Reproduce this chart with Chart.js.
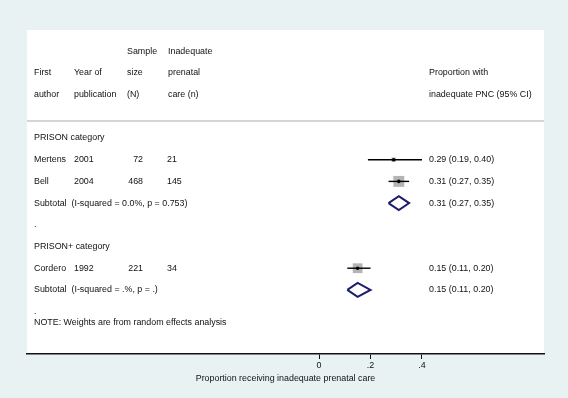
<!DOCTYPE html>
<html lang="en">
<head>
  <meta charset="UTF-8">
  <title>Forest plot - inadequate prenatal care</title>
  <script src="https://cdn.jsdelivr.net/npm/chart.js"></script>
  <style>
    body { margin: 0; background: #e9f2f2; }
    .wrap { width: 568px; height: 398px; }
  </style>
</head>
<body>
  <div class="wrap"><canvas id="forest" width="568" height="398"></canvas></div>
  <script>
    // data
    const groups = ['PRISON category', 'PRISON+ category'];
    const authors = ['Mertens', 'Bell', 'Cordero'];
    const studyGroup = [0, 0, 1];
    const years = ['2001', '2004', '1992'];
    const sampleSize = [72, 468, 221];
    const inadequate = [21, 145, 34];
    const estimate = [0.29, 0.31, 0.15];
    const ciLow = [0.19, 0.27, 0.11];
    const ciHigh = [0.40, 0.35, 0.20];
    const weight = [8.2, 51.2, 40.6];
    const subEstimate = [0.31, 0.15];
    const subLow = [0.27, 0.11];
    const subHigh = [0.35, 0.20];
    const subLabel = ['Subtotal  (I-squared = 0.0%, p = 0.753)', 'Subtotal  (I-squared = .%, p = .)'];
    const tickValues = [0, 0.2, 0.4];
    const tickLabels = ['0', '.2', '.4'];
    const axisTitle = 'Proportion receiving inadequate prenatal care';
    const note = 'NOTE: Weights are from random effects analysis';

    // row layout (one row per line of the table)
    const groupRow = [], studyRow = [], subRow = [], dotRow = [];
    let r = 0;
    groups.forEach((g, gi) => {
      groupRow[gi] = r++;
      authors.forEach((a, i) => { if (studyGroup[i] === gi) studyRow[i] = r++; });
      subRow[gi] = r++;
      dotRow[gi] = r++;
    });
    const noteRow = r - 0.5;

    const fmt = (e, l, h) => e.toFixed(2) + ' (' + l.toFixed(2) + ', ' + h.toFixed(2) + ')';
    const NAVY = '#1b1d6c';
    const FONT = '8.9px "Liberation Sans", Arial, sans-serif';

    const datasets = [];
    // weight boxes
    datasets.push({
      data: authors.map((a, i) => ({ x: estimate[i], y: studyRow[i] })),
      pointStyle: 'rect',
      pointRadius: weight.map(w => 1.08 * Math.sqrt(w)),
      backgroundColor: '#b4b4b4', borderWidth: 0, order: 3
    });
    // confidence intervals
    authors.forEach((a, i) => {
      datasets.push({
        data: [{ x: ciLow[i], y: studyRow[i] }, { x: ciHigh[i], y: studyRow[i] }],
        showLine: true, borderColor: '#000', borderWidth: 1.4, pointRadius: 0, order: 2
      });
    });
    // point estimates
    datasets.push({
      data: authors.map((a, i) => ({ x: estimate[i], y: studyRow[i] })),
      pointStyle: 'circle', pointRadius: 1.8,
      backgroundColor: '#000', borderColor: '#000', borderWidth: 0, order: 1
    });
    // subtotal diamonds
    groups.forEach((g, gi) => {
      const y = subRow[gi], h = 0.32;
      datasets.push({
        data: [
          { x: subLow[gi], y: y }, { x: subEstimate[gi], y: y - h },
          { x: subHigh[gi], y: y }, { x: subEstimate[gi], y: y + h },
          { x: subLow[gi], y: y }
        ],
        showLine: true, borderColor: NAVY, borderWidth: 2, pointRadius: 0,
        borderJoinStyle: 'miter', fill: false, order: 1
      });
    });

    const tablePlugin = {
      id: 'table',
      beforeDraw(chart) {
        const ctx = chart.ctx, a = chart.chartArea;
        ctx.save();
        ctx.fillStyle = '#e9f2f2';
        ctx.fillRect(0, 0, chart.width, chart.height);
        ctx.fillStyle = '#fff';
        ctx.fillRect(a.left, a.top, a.right - a.left, a.bottom - a.top);
        ctx.restore();
      },
      afterDraw(chart) {
        const ctx = chart.ctx, a = chart.chartArea, ys = chart.scales.y;
        const py = v => ys.getPixelForValue(v);
        ctx.save();
        // header rule
        ctx.strokeStyle = '#c4c4cc';
        ctx.lineWidth = 1.5;
        ctx.beginPath();
        ctx.moveTo(a.left, py(-0.78));
        ctx.lineTo(a.right, py(-0.78));
        ctx.stroke();

        ctx.font = FONT;
        ctx.fillStyle = '#111';
        ctx.textBaseline = 'middle';
        const put = (t, x, y, align) => { ctx.textAlign = align || 'left'; ctx.fillText(t, x, py(y)); };
        // column headings
        put('Sample', 127, -4); put('Inadequate', 168, -4);
        put('First', 34, -3); put('Year of', 74, -3); put('size', 127, -3);
        put('prenatal', 168, -3); put('Proportion with', 429, -3);
        put('author', 34, -2); put('publication', 74, -2); put('(N)', 127, -2);
        put('care (n)', 168, -2); put('inadequate PNC (95% CI)', 429, -2);

        groups.forEach((g, gi) => {
          put(g, 34, groupRow[gi]);
          put(subLabel[gi], 34, subRow[gi]);
          put(fmt(subEstimate[gi], subLow[gi], subHigh[gi]), 429, subRow[gi]);
          put('.', 34, dotRow[gi]);
        });
        authors.forEach((au, i) => {
          put(au, 34, studyRow[i]);
          put(years[i], 74, studyRow[i]);
          put(String(sampleSize[i]), 143, studyRow[i], 'right');
          put(String(inadequate[i]), 167, studyRow[i]);
          put(fmt(estimate[i], ciLow[i], ciHigh[i]), 429, studyRow[i]);
        });
        put(note, 34, noteRow);
        ctx.restore();
      }
    };

    new Chart(document.getElementById('forest'), {
      type: 'scatter',
      data: { datasets },
      options: {
        responsive: false,
        animation: false,
        layout: { padding: { left: 27, right: 24, top: 30, bottom: 0 }, autoPadding: false },
        plugins: { legend: { display: false }, tooltip: { enabled: false } },
        scales: {
          x: {
            type: 'linear',
            min: -1.134, max: 0.8738,
            afterBuildTicks: s => { s.ticks = tickValues.map(v => ({ value: v })); },
            afterFit: s => { s.height = 44; },
            ticks: {
              callback: (v, i) => tickLabels[i],
              color: '#111', font: { family: '"Liberation Sans", Arial', size: 8.9 },
              padding: 1, maxRotation: 0, autoSkip: false
            },
            grid: { drawOnChartArea: false, drawTicks: true, tickLength: 5, color: '#111', lineWidth: 1 },
            border: { display: true, color: '#111', width: 1.5 },
            title: {
              display: true, text: axisTitle, color: '#111',
              font: { family: '"Liberation Sans", Arial', size: 8.9 },
              padding: { top: 0, bottom: 14 }
            }
          },
          y: {
            type: 'linear', display: false, reverse: true,
            min: -4.977, max: 9.954
          }
        }
      },
      plugins: [tablePlugin]
    });
  </script>
</body>
</html>
